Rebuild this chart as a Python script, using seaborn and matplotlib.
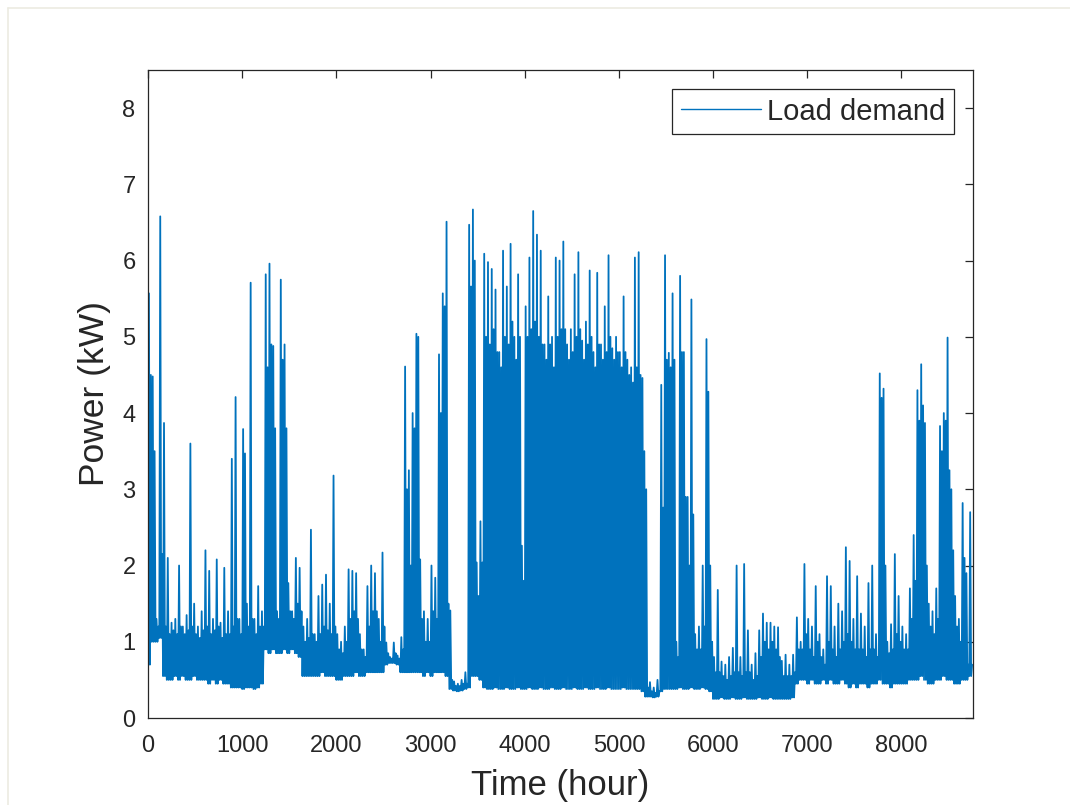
import numpy as np
import pandas as pd
import matplotlib
matplotlib.use("Agg")
import matplotlib.pyplot as plt
import seaborn as sns
from matplotlib.lines import Line2D

# ---- data: hourly load, in 40-hour blocks ----
# each block: block maximum (peak), lower envelope (base), upper edge of the dense band (fill)
peak = [
    5.57, 4.48, 1.30, 6.58, 3.87, 2.10, 1.25, 1.30, 2.00, 1.20,   # 0-400 h
    1.35, 3.60, 1.50, 1.20, 1.40, 2.20, 1.93, 1.30, 2.08, 1.25,   # 400-800
    1.97, 1.40, 3.40, 4.21, 1.30, 3.79, 1.50, 5.71, 1.30, 1.73,   # 800-1200
    1.40, 5.82, 5.96, 4.88, 1.40, 5.75, 4.90, 1.77, 1.40, 2.10,   # 1200-1600
    1.97, 1.20, 1.30, 2.47, 1.10, 1.60, 1.75, 1.88, 1.50, 3.18,   # 1600-2000
    1.10, 1.00, 1.20, 1.95, 1.93, 1.90, 1.10, 0.90, 1.73, 2.00,   # 2000-2400
    1.90, 1.30, 2.17, 0.99, 0.80, 0.99, 0.82, 1.06, 4.61, 3.25,   # 2400-2800
    4.00, 5.04, 2.08, 1.40, 1.30, 2.00, 1.84, 4.77, 5.57, 6.51,   # 2800-3200
    1.41, 0.48, 0.45, 0.50, 0.60, 6.47, 6.67, 2.04, 2.58, 6.09,   # 3200-3600
    5.98, 5.89, 5.62, 4.80, 6.13, 5.66, 6.22, 5.00, 5.82, 2.26,   # 3600-4000
    5.40, 6.04, 6.65, 6.34, 6.13, 4.90, 5.53, 5.00, 6.04, 6.00,   # 4000-4400
    6.25, 4.90, 5.10, 5.82, 6.11, 4.95, 5.20, 5.87, 4.80, 5.84,   # 4400-4800
    4.90, 5.40, 6.07, 4.85, 5.00, 4.80, 5.53, 4.70, 4.60, 6.04,   # 4800-5200
    6.11, 4.46, 3.00, 0.47, 0.40, 0.50, 4.37, 6.07, 4.79, 5.57,   # 5200-5600
    1.00, 5.80, 4.80, 2.90, 5.49, 1.10, 1.20, 2.00, 4.97, 2.00,   # 5600-6000
    0.80, 1.68, 0.74, 0.70, 0.80, 0.92, 2.00, 0.80, 2.02, 1.15,   # 6000-6400
    0.70, 0.85, 1.15, 1.37, 1.25, 1.25, 1.20, 1.19, 0.75, 0.83,   # 6400-6800
    0.70, 0.83, 1.32, 1.00, 2.02, 1.30, 1.20, 1.73, 1.10, 0.90,   # 6800-7200
    1.86, 1.73, 1.20, 1.50, 1.40, 2.24, 2.06, 1.30, 1.86, 1.37,   # 7200-7600
    1.20, 1.77, 2.00, 1.10, 4.52, 4.32, 1.00, 1.23, 2.15, 1.60,   # 7600-8000
    1.20, 1.10, 1.70, 2.40, 4.30, 4.64, 3.87, 1.50, 1.40, 1.70,   # 8000-8400
    3.83, 4.00, 4.99, 3.00, 1.60, 1.30, 2.82, 1.90, 2.70,         # 8400-8760
]
fill = [
    4.50, 3.50, 1.20, 2.15, 1.20, 1.10, 1.15, 1.10, 1.20, 1.10,
    1.15, 1.20, 1.10, 1.05, 1.15, 1.20, 1.10, 1.15, 1.20, 1.05,
    1.10, 1.10, 1.20, 1.30, 1.10, 3.47, 1.20, 1.30, 1.10, 1.20,
    1.20, 4.60, 4.90, 3.80, 1.30, 4.70, 3.80, 1.40, 1.30, 1.50,
    1.40, 1.00, 1.05, 1.10, 1.00, 1.10, 1.20, 1.15, 1.10, 1.20,
    0.90, 0.85, 1.00, 1.30, 1.40, 1.30, 0.90, 0.80, 1.20, 1.40,
    1.40, 1.00, 1.20, 0.85, 0.78, 0.85, 0.78, 0.90, 3.00, 2.00,
    3.80, 5.00, 1.30, 1.00, 1.00, 1.40, 1.30, 4.00, 5.40, 1.50,
    0.50, 0.42, 0.42, 0.45, 0.45, 5.66, 6.00, 1.60, 2.04, 5.00,
    4.90, 5.10, 4.80, 4.60, 5.00, 4.90, 5.20, 4.70, 5.00, 1.80,
    5.00, 5.10, 5.20, 5.00, 4.90, 4.70, 4.90, 4.60, 5.00, 5.10,
    5.10, 4.70, 4.80, 5.00, 5.10, 4.70, 4.90, 5.00, 4.60, 4.90,
    4.70, 4.80, 5.00, 4.70, 4.80, 4.60, 4.80, 4.50, 4.40, 4.60,
    4.50, 3.50, 0.40, 0.35, 0.33, 0.35, 2.76, 4.70, 4.60, 4.70,
    0.80, 4.80, 2.90, 2.00, 2.67, 0.90, 0.90, 1.20, 4.28, 1.00,
    0.60, 0.60, 0.55, 0.50, 0.55, 0.60, 0.60, 0.55, 0.60, 0.60,
    0.50, 0.55, 0.80, 1.00, 0.90, 1.00, 0.90, 0.80, 0.55, 0.55,
    0.55, 0.60, 0.90, 0.90, 1.10, 0.90, 0.80, 1.00, 0.80, 0.70,
    1.00, 0.90, 0.80, 0.90, 1.00, 1.10, 1.00, 0.90, 0.90, 0.90,
    0.80, 0.90, 0.90, 0.80, 4.20, 2.00, 0.85, 0.90, 1.10, 1.00,
    0.90, 0.90, 1.30, 1.80, 3.90, 4.10, 2.00, 1.20, 1.10, 1.30,
    3.50, 3.90, 3.25, 2.20, 1.20, 1.00, 2.10, 0.70, 0.70,
]
base = [
    0.70, 1.00, 1.00, 1.05, 0.55, 0.50, 0.50, 0.55, 0.50, 0.55,
    0.50, 0.50, 0.55, 0.50, 0.50, 0.50, 0.45, 0.50, 0.45, 0.50,
    0.45, 0.45, 0.40, 0.40, 0.40, 0.38, 0.40, 0.40, 0.38, 0.40,
    0.45, 0.90, 0.85, 0.90, 0.85, 0.85, 0.90, 0.85, 0.90, 0.85,
    0.80, 0.55, 0.55, 0.55, 0.55, 0.55, 0.60, 0.55, 0.55, 0.55,
    0.50, 0.50, 0.55, 0.55, 0.55, 0.60, 0.55, 0.55, 0.60, 0.60,
    0.60, 0.60, 0.60, 0.70, 0.72, 0.72, 0.70, 0.60, 0.60, 0.60,
    0.60, 0.60, 0.60, 0.55, 0.60, 0.55, 0.60, 0.60, 0.60, 0.55,
    0.38, 0.36, 0.35, 0.36, 0.38, 0.40, 0.55, 0.55, 0.50, 0.40,
    0.38, 0.38, 0.40, 0.38, 0.38, 0.40, 0.38, 0.38, 0.40, 0.38,
    0.38, 0.40, 0.38, 0.38, 0.40, 0.38, 0.38, 0.40, 0.38, 0.38,
    0.40, 0.38, 0.38, 0.40, 0.38, 0.38, 0.40, 0.38, 0.38, 0.40,
    0.38, 0.38, 0.40, 0.38, 0.38, 0.38, 0.40, 0.38, 0.38, 0.38,
    0.38, 0.35, 0.28, 0.28, 0.27, 0.28, 0.35, 0.38, 0.38, 0.38,
    0.38, 0.40, 0.38, 0.38, 0.40, 0.38, 0.38, 0.40, 0.38, 0.35,
    0.25, 0.25, 0.27, 0.25, 0.25, 0.27, 0.25, 0.25, 0.27, 0.25,
    0.25, 0.25, 0.27, 0.25, 0.25, 0.27, 0.25, 0.25, 0.25, 0.25,
    0.25, 0.27, 0.45, 0.50, 0.50, 0.45, 0.50, 0.45, 0.45, 0.50,
    0.45, 0.50, 0.45, 0.45, 0.50, 0.45, 0.40, 0.45, 0.40, 0.45,
    0.45, 0.40, 0.45, 0.45, 0.50, 0.45, 0.45, 0.40, 0.45, 0.45,
    0.45, 0.45, 0.50, 0.50, 0.50, 0.55, 0.50, 0.45, 0.45, 0.50,
    0.50, 0.55, 0.50, 0.50, 0.45, 0.45, 0.50, 0.50, 0.55,
]
x_ticks = [0, 1000, 2000, 3000, 4000, 5000, 6000, 7000, 8000]
y_ticks = [0, 1, 2, 3, 4, 5, 6, 7, 8]
series_label = "Load demand"
x_label = "Time (hour)"
y_label = "Power (kW)"

# ---- long-form table: within each 40 h block the readings base, peak, base, fill ----
load = np.column_stack([base, peak, base, fill]).ravel()
hour = np.arange(len(load)) * 10
df = pd.DataFrame({"hour": hour, "load": load})

sns.set_style("white")
plt.rcParams["font.family"] = ["Liberation Sans", "DejaVu Sans"]
TXT = "#262626"

fig = plt.figure(figsize=(10.70, 8.05), dpi=100)
ax = fig.add_axes([148 / 1070, 1 - 718 / 805, (973 - 148) / 1070, (718 - 70) / 805])

sns.lineplot(data=df, x="hour", y="load", sort=False, estimator=None,
             color="#0072BD", linewidth=1.3, label=series_label, ax=ax)

ax.set_xlim(0, 8760)
ax.set_ylim(0, 8.5)
ax.set_xticks(x_ticks)
ax.set_yticks(y_ticks)
ax.tick_params(axis="both", which="both", direction="in", length=6, width=0.9,
               colors=TXT, labelsize=17, top=True, right=True,
               labeltop=False, labelright=False)
ax.tick_params(axis="x", pad=12)
ax.tick_params(axis="y", pad=9)
for sp in ax.spines.values():
    sp.set_visible(True)
    sp.set_color(TXT)
    sp.set_linewidth(0.9)

ax.set_xlabel(x_label, fontsize=25, color=TXT, labelpad=9)
ax.set_ylabel(y_label, fontsize=25.5, color=TXT, labelpad=8)

leg = ax.legend(loc="upper right", fontsize=21, frameon=True, fancybox=False,
                framealpha=1, edgecolor=TXT, borderpad=0.3, handlelength=2.75,
                handletextpad=0.2, borderaxespad=0.65)
leg.get_frame().set_linewidth(0.9)
for t in leg.get_texts():
    t.set_color(TXT)
for h in leg.get_lines():
    h.set_linewidth(1.0)

# light window frame of the screenshot
fig.add_artist(Line2D([8 / 1070, 8 / 1070], [0, 1 - 8 / 805],
                      transform=fig.transFigure, color="#ecebe1", lw=1.2))
fig.add_artist(Line2D([8 / 1070, 1], [1 - 8 / 805, 1 - 8 / 805],
                      transform=fig.transFigure, color="#ecebe1", lw=1.2))

fig.savefig("out.png", dpi=100)
